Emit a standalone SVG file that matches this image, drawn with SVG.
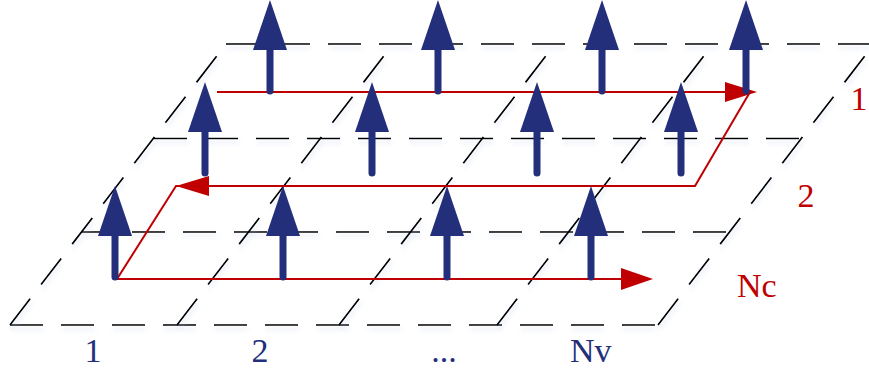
<svg xmlns="http://www.w3.org/2000/svg" width="869" height="372" viewBox="0 0 869 372">
<style>
.grid{fill:none;stroke:#000;stroke-width:1.7;stroke-dasharray:33 18}
.path{fill:none;stroke:#C00000;stroke-width:2;stroke-linejoin:miter}
.rhead{fill:#C00000}
.bhead{fill:#232F7B}
.shaft{stroke:#232F7B;stroke-width:7;stroke-linecap:round}
.lb{font-family:"Liberation Serif","Times New Roman",serif;font-size:34px;fill:#232F7B}
.lr{font-family:"Liberation Serif","Times New Roman",serif;font-size:34px;fill:#C00000}
</style>
<defs>
<filter id="sh" x="-5%" y="-5%" width="110%" height="120%">
<feDropShadow dx="1" dy="4" stdDeviation="2" flood-color="#9fb3d9" flood-opacity="0.35"/>
</filter>
<g id="spin">
<polygon class="bhead" points="0,0 -17,50 17,50"/>
<line class="shaft" x1="0" y1="48" x2="0" y2="91"/>
</g>
</defs>
<rect width="869" height="372" fill="#fff"/>
<g id="grid" filter="url(#sh)">
<line class="grid" x1="226" y1="44" x2="874" y2="44"/>
<line class="grid" x1="154" y1="138.5" x2="802" y2="138.5"/>
<line class="grid" x1="81" y1="232" x2="727" y2="232"/>
<line class="grid" x1="10" y1="325" x2="658" y2="325"/>
<line class="grid" x1="10" y1="325" x2="226" y2="44"/>
<line class="grid" x1="177" y1="325" x2="393" y2="44"/>
<line class="grid" x1="339" y1="325" x2="555" y2="44"/>
<line class="grid" x1="497" y1="325" x2="713" y2="44"/>
<line class="grid" x1="658" y1="325" x2="874" y2="44"/>
</g>
<g id="connectors">
<path class="path" d="M217,92 H750 L695,186 H190 L176,186 L117,279 H630"/>
<polygon class="rhead" points="757,92 725,82 725,102"/>
<polygon class="rhead" points="176,186 209,176 209,196"/>
<polygon class="rhead" points="653,279 621,268 621,290"/>
</g>
<g id="row1">
<g id="s1-1"><use href="#spin" x="270" y="0"/></g>
<g id="s1-2"><use href="#spin" x="438" y="0"/></g>
<g id="s1-3"><use href="#spin" x="602" y="0"/></g>
<g id="s1-4"><use href="#spin" x="746" y="0"/></g>
</g>
<g id="row2">
<g id="s2-1"><use href="#spin" x="205" y="82"/></g>
<g id="s2-2"><use href="#spin" x="372" y="82"/></g>
<g id="s2-3"><use href="#spin" x="537" y="82"/></g>
<g id="s2-4"><use href="#spin" x="681" y="82"/></g>
</g>
<g id="row3">
<g id="s3-1"><use href="#spin" x="115" y="186"/></g>
<g id="s3-2"><use href="#spin" x="283" y="186"/></g>
<g id="s3-3"><use href="#spin" x="447" y="186"/></g>
<g id="s3-4"><use href="#spin" x="591" y="186"/></g>
</g>
<g id="labels">
<text class="lb" x="93" y="362" text-anchor="middle">1</text>
<text class="lb" x="260" y="362" text-anchor="middle">2</text>
<text class="lb" x="444" y="362" text-anchor="middle">...</text>
<text class="lb" x="570" y="362">Nv</text>
<text class="lr" x="859" y="110" text-anchor="middle">1</text>
<text class="lr" x="806" y="207" text-anchor="middle">2</text>
<text class="lr" x="737" y="297">Nc</text>
</g>
</svg>
